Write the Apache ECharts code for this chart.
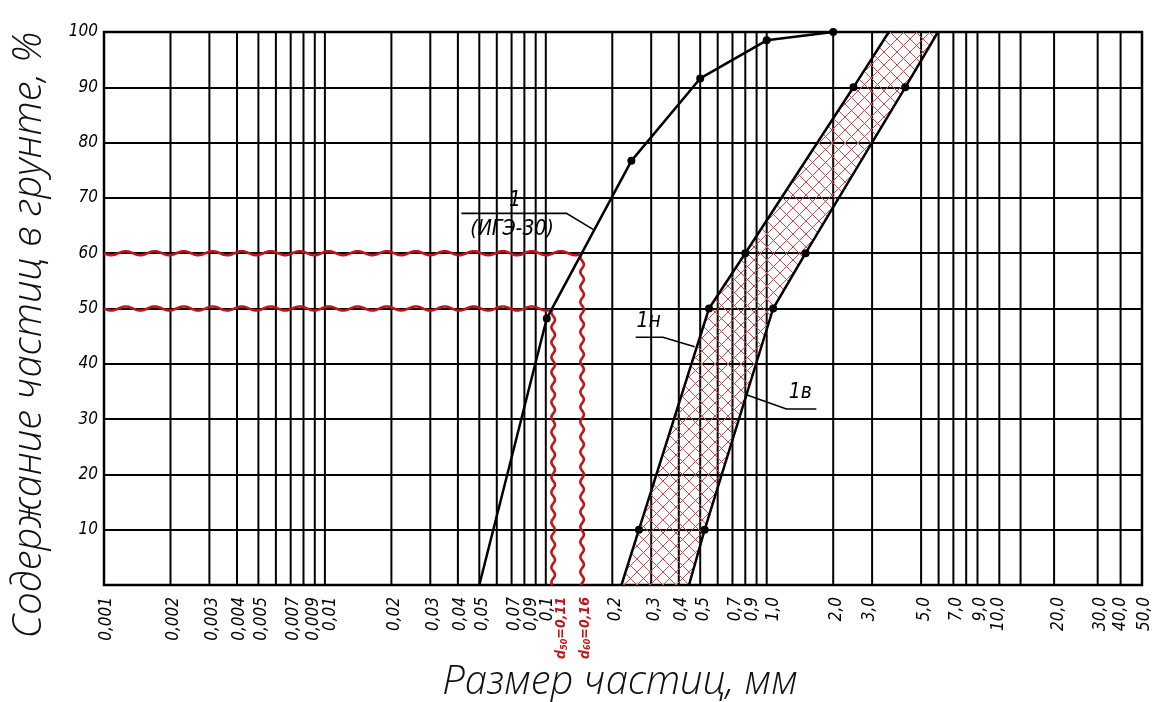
<!DOCTYPE html>
<html><head><meta charset="utf-8">
<script src="https://cdn.jsdelivr.net/npm/echarts@6/dist/echarts.min.js"></script>
<style>html,body{margin:0;padding:0;background:#fff}#c{width:1155px;height:702px}</style>
</head><body><div id="c"></div>
<script>
// ---------- data ----------
const gridX = [0.001,0.002,0.003,0.004,0.005,0.006,0.007,0.008,0.009,0.01,
  0.02,0.03,0.04,0.05,0.06,0.07,0.08,0.09,0.1,
  0.2,0.3,0.4,0.5,0.6,0.7,0.8,0.9,1,
  2,3,5,6,7,8,9,11.3,14.1,20,31.5,40,50];
const xTickVals = [0.001,0.002,0.003,0.004,0.005,0.007,0.009,0.01,
  0.02,0.03,0.04,0.05,0.07,0.09,0.1,0.2,0.3,0.4,0.5,0.7,0.9,1,
  2,3,5,7,9,11.3,20,31.5,40,50];
const xTickText = ['0,001','0,002','0,003','0,004','0,005','0,007','0,009','0,01',
  '0,02','0,03','0,04','0,05','0,07','0,09','0,1','0,2','0,3','0,4','0,5','0,7','0,9','1,0',
  '2,0','3,0','5,0','7,0','9,0','10,0','20,0','30,0','40,0','50,0'];
const yTicks = [10,20,30,40,50,60,70,80,90,100];

// curve 1 (ИГЭ-30)
const curve1X = [0.05, 0.101, 0.244, 0.5, 1.0, 2.0];
const curve1Y = [0, 48.2, 76.7, 91.6, 98.5, 100];
// 1н – lower boundary of band
const lowerX = [0.22, 0.264, 0.548, 0.80, 2.47, 3.57];
const lowerY = [0, 10, 50, 60, 90, 100];
// 1в – upper boundary of band
const upperX = [0.445, 0.524, 1.07, 1.50, 4.24, 5.96];
const upperY = [0, 10, 50, 60, 90, 100];

// characteristic diameters (positions as drawn)
const d50 = 0.108, d60 = 0.146;
const d50Text = '0,11', d60Text = '0,16';

// annotation anchors on curves
const annX = [0.1637, 0.472, 0.809];
const annY = [64.3, 43.1, 34.4];
const annText = ['1', '1н', '1в'];
const annSub = ['(ИГЭ-30)', '', ''];

const xTitle = 'Размер частиц, мм';
const yTitle = 'Содержание частиц в грунте, %';

// ---------- layout / style ----------
// per-label horizontal nudges (px) for crowded tick labels
const tickDx = {'0,009':-1, '0,01':6, '0,09':-4, '0,1':2, '0,9':-4, '1,0':7, '3,0':-3, '10,0':-1, '40,0':0, '20,0':4};
const annLayout = [
  {pts:[[-131.6,-16],[-26.6,-16],[0,0]], t:[-78,-18], s:[-81,0]},
  {pts:[[-59,-9.4],[-31.7,-9.4],[0,0]], t:[-46,-15]},
  {pts:[[0,0],[40,14.3],[70,14.3]], t:[54,8]}
];
const TICK_FONT = 'italic 17px "DejaVu Sans Condensed", "DejaVu Sans"';
const ANN_FONT = 'italic 21px "DejaVu Sans Condensed", "DejaVu Sans"';
const TITLE_FONT = 'italic 300 40px "Open Sans", "DejaVu Sans"';
const RED = '#c0161a';

function hatchCanvas(){
  const s = 13, c = document.createElement('canvas');
  c.width = s; c.height = s;
  const g = c.getContext('2d');
  g.strokeStyle = '#d8454a'; g.lineWidth = 1;
  g.beginPath();
  g.moveTo(0,0); g.lineTo(s,s);
  g.moveTo(s,0); g.lineTo(0,s);
  g.stroke();
  return c;
}
const hatch = hatchCanvas();

function wavePts(p0, p1, period, amp){
  const dx = p1[0]-p0[0], dy = p1[1]-p0[1], L = Math.hypot(dx,dy);
  const ux = dx/L, uy = dy/L, nx = -uy, ny = ux;
  const n = Math.ceil(L/1.5), pts = [];
  for (let i=0;i<=n;i++){
    const t = i/n*L, o = amp*Math.sin(2*Math.PI*t/period);
    pts.push([p0[0]+ux*t+nx*o, p0[1]+uy*t+ny*o]);
  }
  return pts;
}

const chart = echarts.init(document.getElementById('c'));

const waves = [
  [0.001, 60, d60, 60, 0],
  [0.001, 50, d50, 50, 0],
  [d60, 60, d60, 0, 1],
  [d50, 50, d50, 0, 1]
];

function ptsSeries(xs, ys, dots){
  return xs.map((x,i)=>({value:[x, ys[i]], symbol: dots(i) ? 'circle' : 'none'}));
}

const option = {
  animation: false,
  backgroundColor: '#fff',
  grid: {left:104, right:13, top:32, bottom:117, show:true, borderColor:'#000', borderWidth:2.5, backgroundColor:'transparent'},
  graphic: [
    {type:'text', x:30, y:335, rotation:Math.PI/2, z:10,
      style:{text:yTitle, font:TITLE_FONT, fill:'#111', align:'center', verticalAlign:'middle'}},
    {type:'text', x:620, y:683, z:10,
      style:{text:xTitle, font:TITLE_FONT, fill:'#111', align:'center', verticalAlign:'middle'}}
  ],
  xAxis: {
    type:'log', logBase:10, min:0.001, max:50,
    axisLine:{show:false}, axisTick:{show:false}, axisLabel:{show:false}, splitLine:{show:false}
  },
  yAxis: {
    type:'value', min:0, max:100, interval:10,
    axisLine:{show:false}, axisTick:{show:false},
    axisLabel:{formatter: v => yTicks.indexOf(v) >= 0 ? String(v) : '', fontFamily:'DejaVu Sans Condensed', fontStyle:'italic', fontSize:17, color:'#000', margin:6},
    splitLine:{show:true, lineStyle:{color:'#000', width:2}}
  },
  series: [
    { // vertical grid lines
      type:'custom', z:1, silent:true,
      data: gridX.map(v=>[v,0]),
      renderItem: (params, api) => {
        const v = api.value(0), a = api.coord([v,0]), b = api.coord([v,100]);
        return {type:'line', shape:{x1:a[0], y1:a[1], x2:b[0], y2:b[1]}, style:{stroke:'#000', lineWidth:2}};
      }
    },
    { // hatched band between 1н and 1в
      type:'custom', z:2, silent:true,
      data: [[lowerX[0], 0]],
      renderItem: (params, api) => {
        const pts = [];
        for (let i=0;i<lowerX.length;i++) pts.push(api.coord([lowerX[i], lowerY[i]]));
        for (let i=upperX.length-1;i>=0;i--) pts.push(api.coord([upperX[i], upperY[i]]));
        return {type:'polygon', shape:{points:pts}, style:{fill:{image:hatch, repeat:'repeat'}, stroke:null}};
      }
    },
    { // red wavy lines for d50 / d60
      type:'custom', z:3, silent:true,
      encode:{x:[0,2], y:[1,3]},
      data: waves,
      renderItem: (params, api) => {
        const a = api.coord([api.value(0), api.value(1)]), b = api.coord([api.value(2), api.value(3)]);
        const vert = api.value(4) === 1;
        return {type:'polyline', shape:{points: wavePts(a, b, vert ? 15 : 29, vert ? 1.8 : 2)},
          style:{stroke:RED, lineWidth:2.6, fill:null, lineJoin:'round'}};
      }
    },
    { // x tick labels
      type:'custom', z:4, silent:true,
      data: xTickVals.map((v,i)=>[v,0,i]),
      renderItem: (params, api) => {
        const p = api.coord([api.value(0), 0]), i = api.value(2), t = xTickText[i];
        const dx = (t in tickDx) ? tickDx[t] : 3;
        return {type:'text', x:p[0]+dx, y:p[1]+12, rotation:Math.PI/2,
          style:{text:t, font:TICK_FONT, fill:'#000', align:'right', verticalAlign:'middle'}};
      }
    },
    { // red d50 / d60 labels
      type:'custom', z:4, silent:true,
      data: [[d50,0,0],[d60,0,1]],
      renderItem: (params, api) => {
        const p = api.coord([api.value(0), 0]), i = api.value(2);
        const sub = i === 0 ? '50' : '60', val = i === 0 ? d50Text : d60Text;
        const dx = i === 0 ? 8 : 3;
        return {type:'text', x:p[0]+dx, y:p[1]+12, rotation:Math.PI/2,
          style:{text:'{a|d}{b|'+sub+'}{a|='+val+'}', align:'right', verticalAlign:'middle',
            rich:{a:{font:'italic bold 14px "DejaVu Sans Condensed"', fill:RED, color:RED},
                  b:{font:'italic bold 9px "DejaVu Sans Condensed"', fill:RED, color:RED, padding:[6,0,0,0]}}}};
      }
    },
    { // annotations with leaders
      type:'custom', z:6, silent:true,
      data: annX.map((x,i)=>[x, annY[i], i]),
      renderItem: (params, api) => {
        const i = api.value(2), p = api.coord([api.value(0), api.value(1)]), L = annLayout[i];
        const children = [
          {type:'polyline', shape:{points:L.pts.map(q=>[p[0]+q[0], p[1]+q[1]])}, style:{stroke:'#000', lineWidth:1.6, fill:null}},
          {type:'text', x:p[0]+L.t[0], y:p[1]+L.t[1], style:{text:annText[i], font:ANN_FONT, fill:'#000', align:'center', verticalAlign:'bottom'}}
        ];
        if (annSub[i]) children.push({type:'text', x:p[0]+L.s[0], y:p[1]+L.s[1], style:{text:annSub[i], font:ANN_FONT, fill:'#000', align:'center', verticalAlign:'middle'}});
        return {type:'group', children};
      }
    },
    {
      type:'line', z:7, data: ptsSeries(curve1X, curve1Y, i => i > 0),
      symbolSize:8, itemStyle:{color:'#000'}, lineStyle:{color:'#000', width:2.5}
    },
    {
      type:'line', z:7, data: ptsSeries(lowerX, lowerY, i => i > 0 && i < lowerX.length-1),
      symbolSize:8, itemStyle:{color:'#000'}, lineStyle:{color:'#000', width:2.5}
    },
    {
      type:'line', z:7, data: ptsSeries(upperX, upperY, i => i > 0 && i < upperX.length-1),
      symbolSize:8, itemStyle:{color:'#000'}, lineStyle:{color:'#000', width:2.5}
    }
  ]
};
chart.setOption(option);
</script></body></html>
